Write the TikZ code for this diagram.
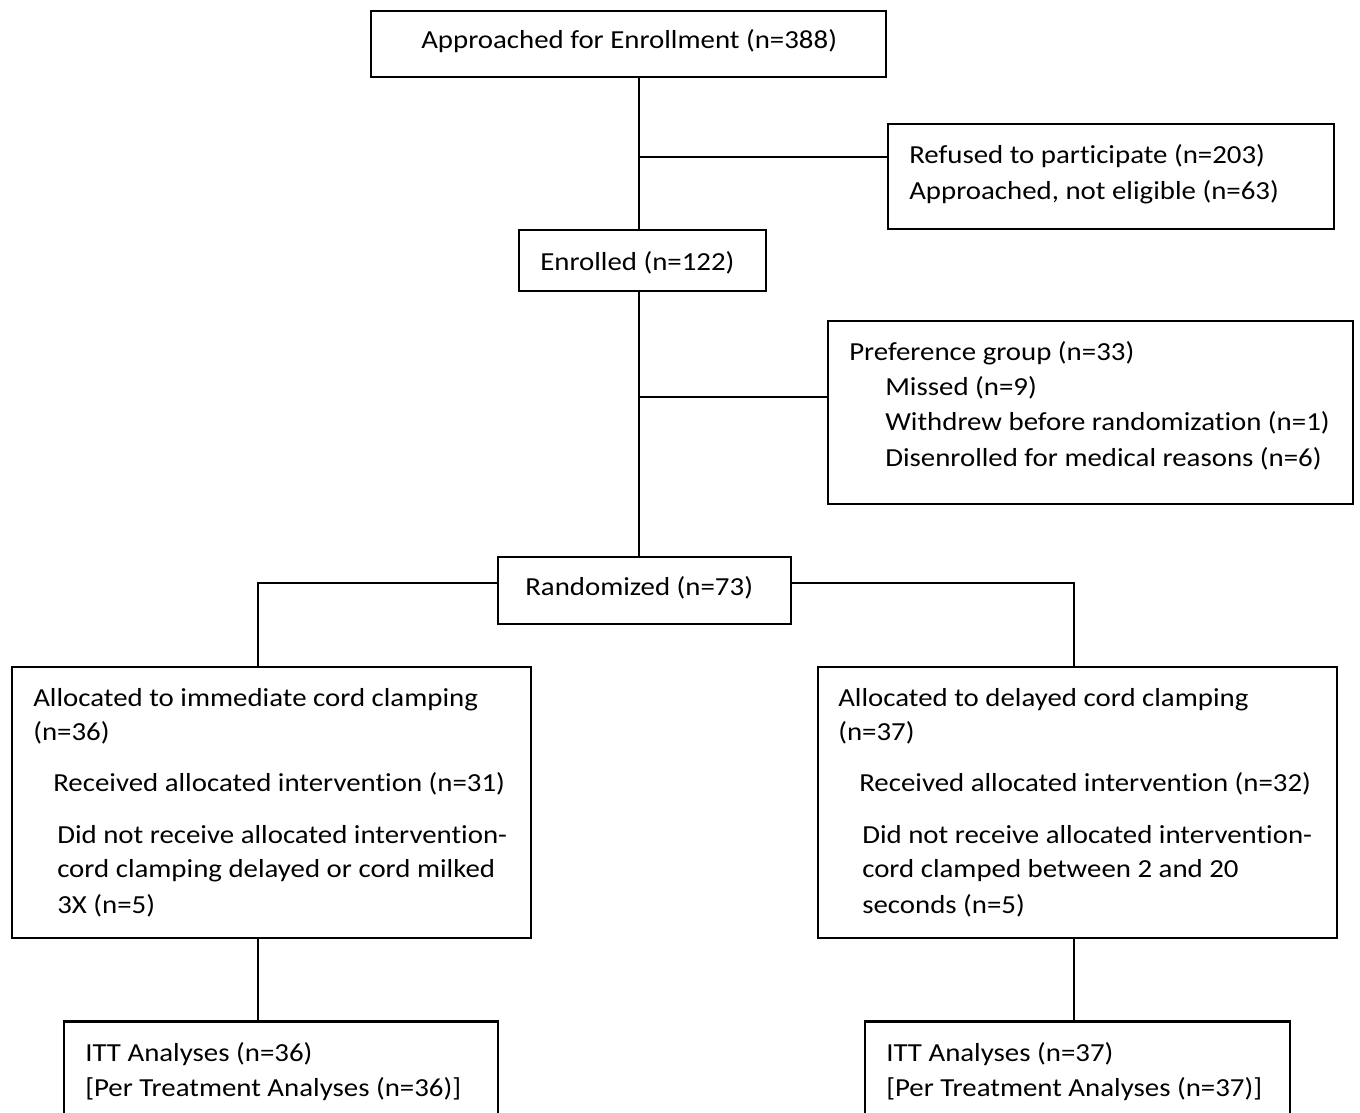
\documentclass[tikz,border=0pt]{standalone}
\usepackage{fontspec}
\setmainfont{Carlito}[FakeStretch=1.11,Ligatures={NoCommon}]
\usetikzlibrary{fit}
\begin{document}
\begin{tikzpicture}[x=0.75pt,y=-0.75pt,
  box/.style={draw=black,line width=1.4pt,inner sep=0pt,fill=none},
  conn/.style={draw=black,line width=1.3pt},
  txt/.style={anchor=base west,inner sep=0pt,font=\fontsize{19.5}{24}\selectfont}]
\useasboundingbox (0,0) rectangle (1360,1113);
\fill[white] (0,0) rectangle (1360,1113);
\clip (0,0) rectangle (1360,1113);
% boxes
\node[box,fit={(371,11)(886,77)}] (A) {};
\node[box,fit={(888,124)(1334,229)}] (B) {};
\node[box,fit={(519,230)(766,291)}] (C) {};
\node[box,fit={(828,321)(1353,504)}] (D) {};
\node[box,fit={(498,557)(791,624)}] (E) {};
\node[box,fit={(12,667)(531,938)}] (F) {};
\node[box,fit={(818,667)(1337,938)}] (G) {};
\node[box,fit={(64,1022)(498,1140)}] (H) {};
\node[box,fit={(865,1022)(1290,1140)}] (I) {};
% helper coordinates
\coordinate (vM) at (639,0);
\coordinate (hB) at (0,157);
\coordinate (hD) at (0,397);
\coordinate (hE) at (0,583);
\coordinate (vF) at (258,0);
\coordinate (vG) at (1074,0);
% connectors
\draw[conn] (A.south -| vM) -- (C.north -| vM);
\draw[conn] (vM |- hB) -- (B.west |- hB);
\draw[conn] (C.south -| vM) -- (E.north -| vM);
\draw[conn] (vM |- hD) -- (D.west |- hD);
\draw[conn] (E.west |- hE) -| (F.north -| vF);
\draw[conn] (E.east |- hE) -| (G.north -| vG);
\draw[conn] (F.south -| vF) -- (H.north -| vF);
\draw[conn] (G.south -| vG) -- (I.north -| vG);
\draw[line width=2.2pt] (H.north west) -- (H.north east);
\draw[line width=2.2pt] (I.north west) -- (I.north east);
% texts
\node[txt] (tA) at (421,49) {Approached for Enrollment (n=388)};
\node[txt] (tB1) at (909,163) {Refused to participate (n=203)};
\node[txt] (tB2) at (909,199) {Approached, not eligible (n=63)};
\node[txt] (tC) at (540,270) {Enrolled (n=122)};
\node[txt] (tD1) at (849,360) {Preference group (n=33)};
\node[txt] (tD2) at (885,395) {Missed (n=9)};
\node[txt] (tD3) at (885,430) {Withdrew before randomization (n=1)};
\node[txt] (tD4) at (885,466) {Disenrolled for medical reasons (n=6)};
\node[txt] (tE) at (525,595) {Randomized (n=73)};
\node[txt] (tF1) at (33,706) {Allocated to immediate cord clamping};
\node[txt] (tF2) at (33,740) {(n=36)};
\node[txt] (tF3) at (53,791) {Received allocated intervention (n=31)};
\node[txt] (tF4) at (57,843) {Did not receive allocated intervention-};
\node[txt] (tF5) at (57,877) {cord clamping delayed or cord milked};
\node[txt] (tF6) at (57,913) {3X (n=5)};
\node[txt] (tG1) at (838,706) {Allocated to delayed cord clamping};
\node[txt] (tG2) at (838,740) {(n=37)};
\node[txt] (tG3) at (859,791) {Received allocated intervention (n=32)};
\node[txt] (tG4) at (862,843) {Did not receive allocated intervention-};
\node[txt] (tG5) at (862,877) {cord clamped between 2 and 20};
\node[txt] (tG6) at (862,913) {seconds (n=5)};
\node[txt] (tH1) at (85,1061) {ITT Analyses (n=36)};
\node[txt] (tH2) at (85,1096) {[Per Treatment Analyses (n=36)]};
\node[txt] (tI1) at (886,1061) {ITT Analyses (n=37)};
\node[txt] (tI2) at (886,1096) {[Per Treatment Analyses (n=37)]};
\end{tikzpicture}
\end{document}
